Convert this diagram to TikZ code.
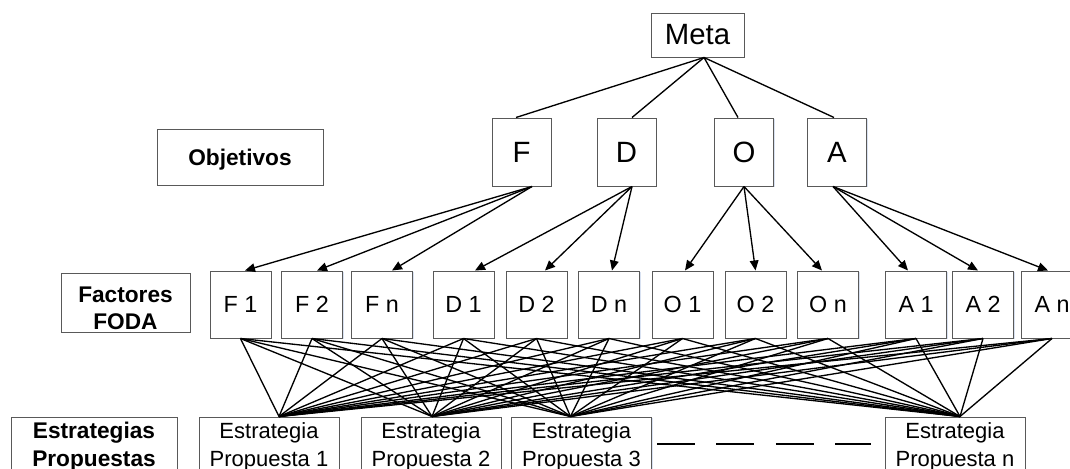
\documentclass[tikz,border=0pt]{standalone}
\usepackage{fontspec}
\setmainfont{Liberation Sans}
\usetikzlibrary{arrows.meta,calc,shadows}
\definecolor{boxshade}{RGB}{190,205,232}
\begin{document}
\begin{tikzpicture}[x=0.75pt,y=-0.75pt,
  box/.style={draw=black!65,line width=0.75pt,fill=white,inner sep=0pt,align=center,
    drop shadow={shadow xshift=1pt,shadow yshift=-1pt,fill=boxshade,opacity=0.6}},
  goal/.style={box,minimum width=69.75pt,minimum height=33pt,font=\fontsize{22}{26}\selectfont},
  obj/.style={box,minimum width=44.25pt,minimum height=51pt,font=\fontsize{22}{26}\selectfont},
  factor/.style={box,minimum width=45.75pt,minimum height=50.25pt,font=\fontsize{17.5}{21}\selectfont},
  strat/.style={box,minimum width=105pt,minimum height=45pt,font=\fontsize{16.5}{21}\selectfont},
  tag/.style={box,font=\fontsize{17}{20.25}\selectfont\bfseries},
  link/.style={line width=1pt,black},
  arr/.style={link,-{Triangle[length=7.5pt,width=6.5pt]}},
  gap/.style={line width=2pt,dash pattern=on 28.5pt off 16.1pt},
]
\useasboundingbox (0,0) rectangle (1070,468);

% goal
\node[goal] (Meta) at (697.5,35) {Meta};

% objectives
\node[obj] (F) at (521.5,152) {F};
\node[obj] (D) at (626.5,152) {D};
\node[obj] (O) at (744,152) {O};
\node[obj] (A) at (837,152) {A};

% row titles
\node[tag,minimum width=124.5pt,minimum height=42pt,text depth=0pt] (lobj) at (240,157) {Objetivos};
\node[tag,minimum width=96.75pt,minimum height=44.25pt] (lfac) at (125.5,302.5) {\rule{0pt}{20pt}Factores\\FODA};
\node[tag,minimum width=124.5pt,minimum height=45pt,font=\fontsize{17}{21}\selectfont\bfseries] (lest) at (94,447) {Estrategias\\Propuestas};

% SWOT factors
\foreach \n/\x/\t in {F1/240.5/F 1,F2/312/F 2,Fn/382/F n,
                      D1/463.5/D 1,D2/536.5/D 2,Dn/609/D n,
                      O1/682.5/O 1,O2/755.5/O 2,On/828/O n,
                      A1/916/A 1,A2/983/A 2,An/1052/A n}
  \node[factor] (\n) at (\x,304.5) {\t};

% proposed strategies
\node[strat] (S1) at (269,447) {Estrategia\\Propuesta 1};
\node[strat] (S2) at (431,447) {Estrategia\\Propuesta 2};
\node[strat] (S3) at (581.5,447) {Estrategia\\Propuesta 3};
\node[strat] (Sn) at (955,447) {Estrategia\\Propuesta n};

% goal to objectives
\draw[link] ($(Meta.south)+(6.5,0)$) -- ($(F.north)+(-5.5,0)$);
\draw[link] ($(Meta.south)+(6.5,0)$) -- ($(D.north)+(5.5,0)$);
\draw[link] ($(Meta.south)+(6.5,0)$) -- ($(O.north)+(-6,0)$);
\draw[link] ($(Meta.south)+(6.5,0)$) -- ($(A.north)+(-3,0)$);

% objectives to factors
\foreach \s/\ds/\t/\dt in {F/10.5/F1/4.5, F/10.5/F2/5, F/10.5/Fn/10,
                           D/5.5/D1/11.5, D/5.5/D2/8.5, D/5.5/Dn/3,
                           O/0/O1/2.5, O/0/O2/0, O/0/On/-6,
                           A/-4/A1/-8, A/-4/A2/-5, A/-4/An/-4}
  \draw[arr] ($(\s.south)+(\ds,0)$) -- ($(\t.north)+(\dt,0)$);

% factors to strategies
\foreach \f in {F1,F2,Fn,D1,D2,Dn,O1,O2,On,A1,A2,An}
  \foreach \s/\dx in {S1/10,S2/1,S3/-11,Sn/5}
    \draw[link] (\f.south) -- ($(\s.north)+(\dx,0)$);

% further strategies
\draw[gap] ($(S3.east)+(5,-3)$) -- ($(Sn.west)+(-14,-3)$);
\end{tikzpicture}
\end{document}
